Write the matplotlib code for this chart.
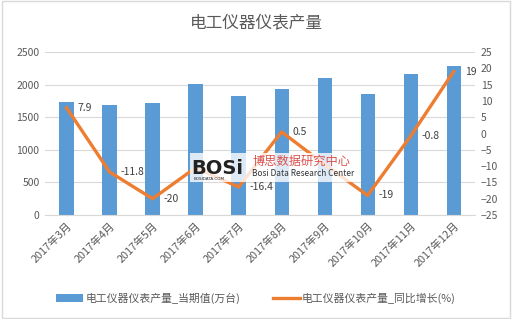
import matplotlib.pyplot as plt
import numpy as np
from matplotlib.patches import Rectangle

plt.rcParams['font.family'] = ['Noto Sans CJK SC', 'DejaVu Sans']

months = ['2017年3月', '2017年4月', '2017年5月', '2017年6月', '2017年7月',
          '2017年8月', '2017年9月', '2017年10月', '2017年11月', '2017年12月']
output = [1733, 1687, 1718, 2009, 1825, 1932, 2101, 1856, 2163, 2285]
growth = [7.9, -11.8, -20, -10.5, -16.4, 0.5, -9.5, -19, -0.8, 19]
shown = [True, True, True, False, True, True, False, True, True, True]

bar_c = '#5B9BD5'
line_c = '#ED7D31'
txt_c = '#595959'

fig = plt.figure(figsize=(5.12, 3.19), dpi=100)
ax = fig.add_axes([0.088, 0.326, 0.84, 0.511])
ax2 = ax.twinx()

x = np.arange(len(months))
ax.bar(x, output, width=0.33, color=bar_c, zorder=2, label='电工仪器仪表产量_当期值(万台)')
ax2.plot(x, growth, color=line_c, lw=2.4, zorder=3, label='电工仪器仪表产量_同比增长(%)')
for i, v in enumerate(growth):
    if shown[i]:
        ax2.annotate(f'{v:g}', (x[i], v), xytext=(8, 0), textcoords='offset points',
                     ha='left', va='center', fontsize=7.5, color='#404040')

ax.set_xlim(-0.5, len(months) - 0.5)
ax.set_ylim(0, 2500)
ax.set_yticks(range(0, 2501, 500))
ax2.set_ylim(-25, 25)
ax2.set_yticks(range(-25, 26, 5))
ax.set_xticks(x)
ax.set_xticklabels(months, rotation=45, ha='right', rotation_mode='anchor')
ax.yaxis.grid(True, color='#D9D9D9', lw=0.8)
ax.set_axisbelow(True)
ax.set_zorder(ax2.get_zorder() - 1)
ax.patch.set_visible(True)
ax2.patch.set_visible(False)

for a in (ax, ax2):
    for s in a.spines.values():
        s.set_visible(False)
    a.tick_params(axis='y', length=0, labelsize=7.5, labelcolor=txt_c, pad=4)
ax.spines['bottom'].set_visible(True)
ax.spines['bottom'].set_color('#D9D9D9')
ax.tick_params(axis='x', length=0, labelsize=7.8, labelcolor=txt_c, pad=4)

fig.text(0.5, 0.93, '电工仪器仪表产量', ha='center', va='center', fontsize=12, color=txt_c)

# watermark
fig.patches.append(Rectangle((0.371, 0.43), 0.322, 0.09, transform=fig.transFigure,
                             facecolor='white', edgecolor='none', alpha=0.8))
fig.text(0.373, 0.455, 'BOSi', fontsize=14, fontweight='bold', color='#222222',
         va='baseline', ha='left', family='DejaVu Sans')
fig.text(0.378, 0.445, 'BOSIDATA.COM', fontsize=3, color='#222222', va='top', ha='left',
         family='DejaVu Sans')
fig.text(0.493, 0.495, '博思数据研究中心', fontsize=8.8, color='#D9534F', va='center', ha='left')
fig.text(0.493, 0.457, 'Bosi Data Research Center', fontsize=6, color='#333333',
         va='center', ha='left')

h1, l1 = ax.get_legend_handles_labels()
h2, l2 = ax2.get_legend_handles_labels()
fig.legend(h1 + h2, l1 + l2, loc='center', bbox_to_anchor=(0.5, 0.065), ncol=2,
           frameon=False, fontsize=7.8, labelcolor=txt_c, handlelength=2.5,
           handletextpad=0.2, columnspacing=3)

fig.patches.append(Rectangle((0.003, 0.003), 0.994, 0.994, transform=fig.transFigure,
                             fill=False, edgecolor='#D9D9D9', lw=1))

fig.savefig('out.png', dpi=100)
